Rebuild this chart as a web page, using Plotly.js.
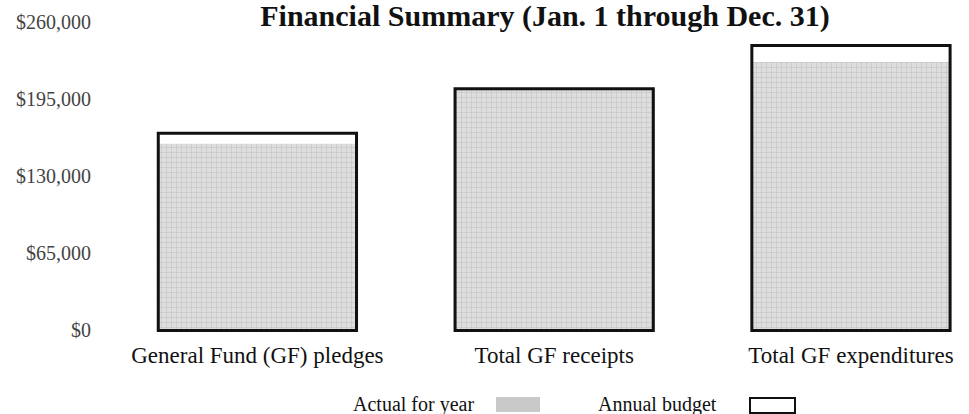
<!DOCTYPE html>
<html>
<head>
<meta charset="utf-8">
<script src="https://cdn.plot.ly/plotly-3.0.1.min.js"></script>
<style>html,body{margin:0;padding:0;background:#fff;}#chart{width:969px;height:414px;}</style>
</head>
<body>
<div id="chart"></div>
<script>
const categories = ['General Fund (GF) pledges', 'Total GF receipts', 'Total GF expenditures'];
const actualForYear = [157500, 203500, 226500];
const annualBudget = [166500, 204000, 240500];
const yTickValues = [0, 65000, 130000, 195000, 260000];
const yTickLabels = ['$0', '$65,000', '$130,000', '$195,000', '$260,000'];
const legendLabels = ['Actual for year', 'Annual budget'];

const W = 969, H = 414;
const M = {l: 109, r: 10, t: 20, b: 80};
const plotW = W - M.l - M.r, plotH = H - M.t - M.b;
const px = v => (v - M.l) / plotW;
const py = v => (H - M.b - v) / plotH;
const serif = 'Liberation Serif, Times New Roman, serif';
const barWidth = 0.668;

const traces = [
  {
    type: 'bar', x: categories, y: actualForYear, width: barWidth,
    marker: {
      color: '#d9d9d9',
      line: {width: 0},
      pattern: {shape: '+', bgcolor: '#dedede', fgcolor: '#b4b4b4', size: 5, solidity: 0.15}
    },
    hoverinfo: 'skip'
  },
  {
    type: 'bar', x: categories, y: annualBudget, width: barWidth,
    marker: {color: 'rgba(0,0,0,0)', line: {color: '#111', width: 3}},
    hoverinfo: 'skip'
  }
];

const layout = {
  width: W, height: H,
  margin: M,
  paper_bgcolor: '#fff', plot_bgcolor: '#fff',
  barmode: 'overlay',
  showlegend: false,
  title: {
    text: 'Financial Summary (Jan. 1 through Dec. 31)',
    font: {family: serif, size: 30, color: '#111', weight: 'bold'},
    xref: 'container', x: 545 / W, xanchor: 'center',
    yref: 'container', y: 1 - 15 / H, yanchor: 'middle', pad: {t: 0, b: 0}
  },
  xaxis: {
    type: 'category', range: [-0.5, 2.364],
    showgrid: false, zeroline: false, showline: false, ticks: '',
    ticklabelstandoff: 5,
    tickfont: {family: serif, size: 23, color: '#111'}
  },
  yaxis: {
    range: [-3000, 262000],
    tickvals: yTickValues, ticktext: yTickLabels,
    showgrid: false, zeroline: false, showline: false, ticks: '',
    ticklabelstandoff: 17,
    tickfont: {family: serif, size: 20, color: '#444'}
  },
  annotations: [
    {text: legendLabels[0], xref: 'paper', yref: 'paper', x: px(476), y: py(404), xanchor: 'right', yanchor: 'middle', showarrow: false, font: {family: serif, size: 20, color: '#111'}},
    {text: legendLabels[1], xref: 'paper', yref: 'paper', x: px(719), y: py(404), xanchor: 'right', yanchor: 'middle', showarrow: false, font: {family: serif, size: 20, color: '#111'}}
  ],
  shapes: [
    {type: 'rect', xref: 'paper', yref: 'paper', x0: px(496), x1: px(540), y0: py(412), y1: py(397), fillcolor: '#c9c9c9', line: {width: 0}},
    {type: 'rect', xref: 'paper', yref: 'paper', x0: px(750), x1: px(795), y0: py(413), y1: py(398), fillcolor: '#fff', line: {color: '#111', width: 2}}
  ]
};

Plotly.newPlot('chart', traces, layout, {displayModeBar: false, staticPlot: true});
</script>
</body>
</html>
